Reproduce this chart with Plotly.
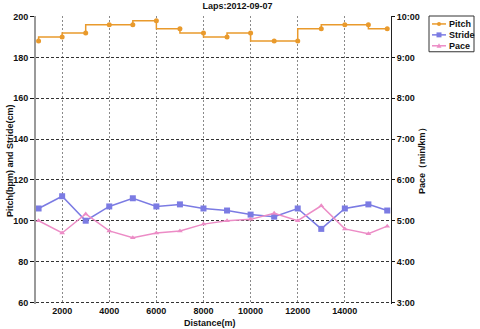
import plotly.graph_objects as go

# Lap data
distance_m = [1000, 2000, 3000, 4000, 5000, 6000, 7000, 8000, 9000, 10000,
              11000, 12000, 13000, 14000, 15000, 15800]
pitch_bpm = [188, 190, 192, 196, 196, 198, 194, 192, 190, 192,
             188, 188, 194, 196, 196, 194]
stride_cm = [106, 112, 100, 107, 111, 107, 108, 106, 105, 103,
             102, 106, 96, 106, 108, 105]
pace_min_km = ["5:00", "4:42", "5:10", "4:45", "4:35", "4:42", "4:45", "4:55",
               "5:00", "5:02", "5:11", "5:00", "5:22", "4:48", "4:41", "4:52"]

x_ticks = [2000, 4000, 6000, 8000, 10000, 12000, 14000]
x_tick_text = ["2000", "4000", "6000", "8000", "10000", "12000", "14000"]
left_ticks = [60, 80, 100, 120, 140, 160, 180, 200]
pace_ticks = [3, 4, 5, 6, 7, 8, 9, 10]
pace_tick_text = ["3:00", "4:00", "5:00", "6:00", "7:00", "8:00", "9:00", "10:00"]


def to_minutes(s):
    m, sec = s.split(":")
    return int(m) + int(sec) / 60.0


pace_minutes = [to_minutes(p) for p in pace_min_km]

C_PITCH = "#E99A2C"
C_STRIDE = "#7B7BE3"
C_PACE = "#EC8CC6"
FONT = "Liberation Sans"

W, H = 480, 329
ML, MR, MT, MB = 36, 89, 14, 25
PW, PH = W - ML - MR, H - MT - MB
Y_RANGE = [59.2, 200.3]


def px(xpix):
    return (xpix - ML) / PW


def py(ypix):
    return (H - MB - ypix) / PH


fig = go.Figure()
fig.add_trace(go.Scatter(
    x=distance_m, y=pitch_bpm, name="Pitch", mode="lines+markers",
    line=dict(color=C_PITCH, width=1.5, shape="vh"),
    marker=dict(symbol="circle", size=5, color=C_PITCH)))
fig.add_trace(go.Scatter(
    x=distance_m, y=stride_cm, name="Stride", mode="lines+markers",
    line=dict(color=C_STRIDE, width=1.5),
    marker=dict(symbol="square", size=6, color=C_STRIDE)))
fig.add_trace(go.Scatter(
    x=distance_m, y=pace_minutes, name="Pace", mode="lines+markers",
    yaxis="y2",
    line=dict(color=C_PACE, width=1.5),
    marker=dict(symbol="triangle-up", size=5, color=C_PACE)))

tick_font = dict(family=FONT, size=9, color="#111", weight="bold")

fig.update_layout(
    width=W, height=H,
    margin=dict(l=ML, r=MR, t=MT, b=MB),
    paper_bgcolor="white", plot_bgcolor="white",
    showlegend=False,
    title=dict(text="Laps:2012-09-07", x=237.5 / W, xref="container",
               y=1 - 6 / H, yref="container", xanchor="center", yanchor="middle",
               font=dict(family=FONT, size=9, color="#111", weight="bold")),
    xaxis=dict(range=[890, 15960], tickvals=x_ticks, ticktext=x_tick_text,
               tickfont=tick_font,
               showgrid=True, gridcolor="#8a8a8a", griddash="2px,2px", gridwidth=1,
               ticks="", zeroline=False, showline=False),
    yaxis=dict(range=Y_RANGE, tickvals=left_ticks, tickfont=tick_font,
               showgrid=True, gridcolor="#333", griddash="3px,2px", gridwidth=1,
               showline=True, linecolor="#9a9a9a", linewidth=2,
               ticks="outside", ticklen=4, tickcolor="#111", zeroline=False),
    yaxis2=dict(overlaying="y", side="right",
                range=[Y_RANGE[0] / 20, Y_RANGE[1] / 20],
                tickvals=pace_ticks, ticktext=pace_tick_text, tickfont=tick_font,
                showgrid=False, showline=True, linecolor="#222", linewidth=1,
                ticks="outside", ticklen=3, tickcolor="#111", zeroline=False),
)

label_font = dict(family=FONT, size=9, color="#111", weight="bold")
annotations = [
    dict(text="Pitch(bpm) and Stride(cm)", x=px(10), y=py(160), xref="paper",
         yref="paper", textangle=-90, showarrow=False, font=label_font,
         xanchor="center", yanchor="middle"),
    dict(text="Pace（min/km）", x=px(422), y=py(158), xref="paper",
         yref="paper", textangle=-90, showarrow=False, font=label_font,
         xanchor="center", yanchor="middle"),
    dict(text="Distance(m)", x=px(210), y=py(323), xref="paper", yref="paper",
         showarrow=False, font=label_font, xanchor="center", yanchor="middle"),
]

# Legend box drawn with shapes and annotations
shapes = [dict(type="rect", xref="paper", yref="paper",
               x0=px(429), x1=px(474), y0=py(50), y1=py(14),
               line=dict(color="#333", width=1), fillcolor="white")]
legend_rows = [("Pitch", C_PITCH, 22), ("Stride", C_STRIDE, 33), ("Pace", C_PACE, 44)]
for name, color, ry in legend_rows:
    shapes.append(dict(type="line", xref="paper", yref="paper",
                       x0=px(432), x1=px(446), y0=py(ry), y1=py(ry),
                       line=dict(color=color, width=1.5)))
    cx = 439
    if name == "Pitch":
        shapes.append(dict(type="circle", xref="paper", yref="paper",
                           x0=px(cx - 2), x1=px(cx + 2), y0=py(ry + 2), y1=py(ry - 2),
                           fillcolor=color, line=dict(color=color, width=0)))
    elif name == "Stride":
        shapes.append(dict(type="rect", xref="paper", yref="paper",
                           x0=px(cx - 2.5), x1=px(cx + 2.5), y0=py(ry + 2.5), y1=py(ry - 2.5),
                           fillcolor=color, line=dict(color=color, width=0)))
    else:
        path = "M {} {} L {} {} L {} {} Z".format(
            px(cx - 2.5), py(ry + 2), px(cx + 2.5), py(ry + 2), px(cx), py(ry - 2.5))
        shapes.append(dict(type="path", xref="paper", yref="paper", path=path,
                           fillcolor=color, line=dict(color=color, width=0)))
    annotations.append(dict(text=name, x=px(447), y=py(ry), xref="paper",
                            yref="paper", showarrow=False, font=label_font,
                            xanchor="left", yanchor="middle"))

fig.update_layout(annotations=annotations, shapes=shapes)
fig.write_html("out.html")
